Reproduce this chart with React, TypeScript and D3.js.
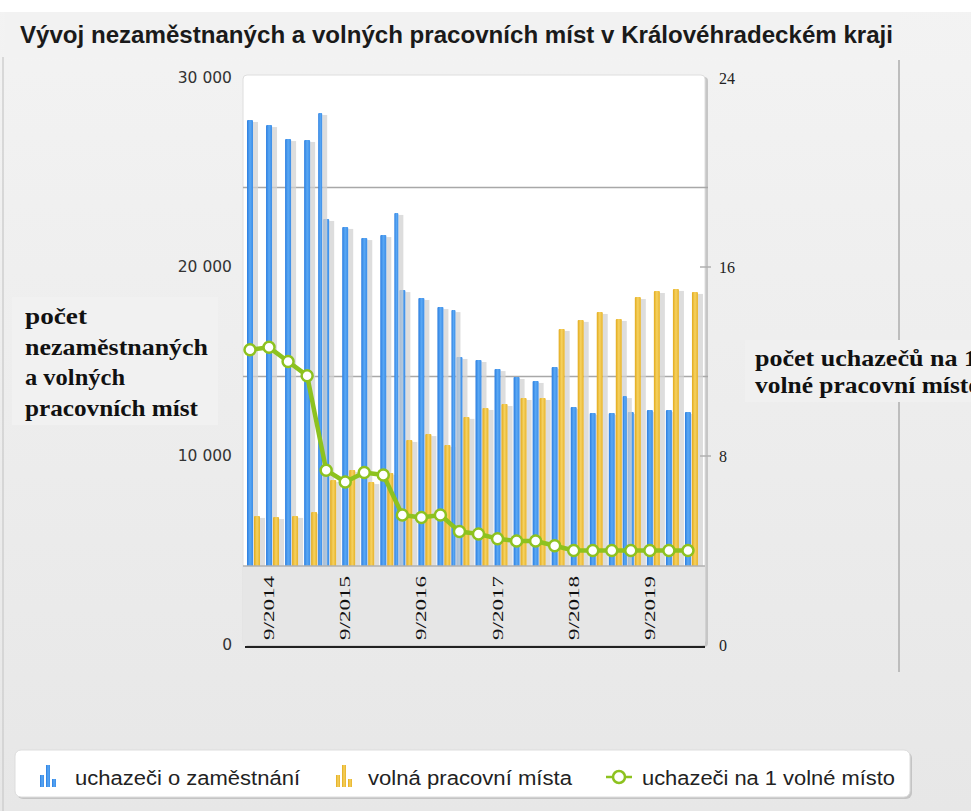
import * as d3 from 'd3';
import { useRef, useEffect } from 'react';

// quarterly categories, only the September ones get a label
const categories = [
  '6/2014', '9/2014', '12/2014', '3/2015', '6/2015', '9/2015', '12/2015', '3/2016',
  '6/2016', '9/2016', '12/2016', '3/2017', '6/2017', '9/2017', '12/2017', '3/2018',
  '6/2018', '9/2018', '12/2018', '3/2019', '6/2019', '9/2019', '12/2019', '3/2020'
];
const jobSeekers = [
  27780, 27510, 26770, 26720, 22540, 22120, 21530, 21690,
  18780, 18360, 17880, 15240, 15080, 14600, 14180, 13970,
  14710, 12590, 12280, 12280, 12330, 12430, 12430, 12330
];
const vacancies = [
  6830, 6770, 6830, 7040, 8730, 9260, 8620, 9100,
  10850, 11160, 10580, 12070, 12540, 12750, 13070, 13070,
  16720, 17200, 17620, 17250, 18410, 18730, 18840, 18680
];
const seekersPerVacancy = [
  12.5, 12.6, 12.0, 11.4, 7.4, 6.9, 7.3, 7.2,
  5.5, 5.4, 5.5, 4.8, 4.7, 4.5, 4.4, 4.4,
  4.2, 4.0, 4.0, 4.0, 4.0, 4.0, 4.0, 4.0
];
// narrow extra blue bars sitting at the year boundaries
const spikeAfter = [3, 7, 10, 19];
const spikeValues = [28150, 22860, 17720, 13170];

const leftTicks = [0, 10000, 20000, 30000];
const rightTicks = [0, 8, 16, 24];
const gridValues = [14200, 24200];

const title = 'Vývoj nezaměstnaných a volných pracovních míst v Královéhradeckém kraji';
const leftTitle = ['počet', 'nezaměstnaných', 'a volných', 'pracovních míst'];
const rightTitle = ['počet uchazečů na 1', 'volné pracovní místo'];
const legendLabels = ['uchazeči o zaměstnání', 'volná pracovní místa', 'uchazeči na 1 volné místo'];

const App = () => {
  const svgRef = useRef<SVGSVGElement>(null);

  useEffect(() => {
    document.body.style.margin = '0';
    const svg = d3.select(svgRef.current);
    svg.selectAll('*').remove();
    const width = 971;
    const height = 811;
    const panel = { left: 243, right: 705, top: 75, bottom: 645 };
    const bandTop = 566;
    const green = '#8dc21f';

    const defs = svg.append('defs');
    const grad = (id, stops, vertical = false) => {
      const g = defs.append('linearGradient').attr('id', id)
        .attr('x1', 0).attr('y1', 0).attr('x2', vertical ? 0 : 1).attr('y2', vertical ? 1 : 0);
      stops.forEach(([o, c]) => g.append('stop').attr('offset', o).attr('stop-color', c));
    };
    grad('bg', [[0, '#f3f3f3'], [1, '#e7e7e7']], true);
    grad('blue', [[0, '#2a7de0'], [0.5, '#5aa8f4'], [1, '#3b8de8']]);
    grad('yellow', [[0, '#e2aa1c'], [0.5, '#f6d260'], [1, '#e6b22a']]);

    svg.attr('width', width).attr('height', height);

    // page background
    svg.append('rect').attr('width', width).attr('height', height).attr('fill', 'url(#bg)');
    svg.append('rect').attr('width', width).attr('height', 12).attr('fill', '#ffffff');
    svg.append('rect').attr('x', 5).attr('y', 12).attr('width', 895).attr('height', 45).attr('fill', '#f2f2f2');
    svg.append('line').attr('x1', 3).attr('x2', 3).attr('y1', 57).attr('y2', height)
      .attr('stroke', '#cfcfcf').attr('stroke-width', 1.5);

    svg.append('text')
      .attr('x', 20).attr('y', 43)
      .attr('textLength', 873).attr('lengthAdjust', 'spacingAndGlyphs')
      .style('font-family', '"Liberation Sans Narrow", "Liberation Sans", Arial, sans-serif')
      .style('font-size', '23px')
      .style('font-weight', 'bold')
      .attr('fill', '#1a1a1a')
      .text(title);

    // right vertical divider
    svg.append('line').attr('x1', 899).attr('x2', 899).attr('y1', 60).attr('y2', 672)
      .attr('stroke', '#bdbdbd').attr('stroke-width', 2);

    // scales
    const x = d3.scaleBand().domain(categories).range([243, 700]);
    const yLeft = d3.scaleLinear().domain([0, 30000]).range([panel.bottom, 78]);
    const yRight = d3.scaleLinear().domain([0, 24]).range([panel.bottom, 78]);
    const bw = 6;

    // white plot panel with shadow
    svg.append('rect').attr('x', panel.left + 3).attr('y', panel.top + 2)
      .attr('width', panel.right - panel.left).attr('height', panel.bottom - panel.top)
      .attr('rx', 4).attr('fill', '#c6c6c6');
    svg.append('rect').attr('x', panel.left).attr('y', panel.top)
      .attr('width', panel.right - panel.left).attr('height', panel.bottom - panel.top)
      .attr('rx', 4).attr('fill', '#ffffff').attr('stroke', '#dedede');

    // gridlines
    svg.append('g').selectAll('line').data(gridValues).enter().append('line')
      .attr('x1', panel.left).attr('x2', panel.right + 3)
      .attr('y1', d => yLeft(d)).attr('y2', d => yLeft(d))
      .attr('stroke', '#a8a8a8').attr('stroke-width', 1.5);

    const bars = svg.append('g');
    const drawBar = (bx, v, w, fill) => {
      bars.append('rect').attr('x', bx + w).attr('y', yLeft(v) + 2).attr('width', 5)
        .attr('height', panel.bottom - yLeft(v)).attr('fill', '#d2d2d2').attr('opacity', 0.75);
      bars.append('rect').attr('x', bx).attr('y', yLeft(v)).attr('width', w)
        .attr('height', panel.bottom - yLeft(v)).attr('rx', 1).attr('fill', fill);
    };
    categories.forEach((c, i) => {
      drawBar(x(c) + 4, jobSeekers[i], bw, 'url(#blue)');
      drawBar(x(c) + 11, vacancies[i], bw, 'url(#yellow)');
    });
    spikeAfter.forEach((a, i) => {
      drawBar(x(categories[a + 1]) - 1, spikeValues[i], 4, 'url(#blue)');
    });

    // x-axis band covering the bar bases
    svg.append('rect').attr('x', panel.left).attr('y', bandTop)
      .attr('width', panel.right - panel.left).attr('height', panel.bottom - bandTop)
      .attr('fill', '#e6e6e6');
    svg.append('line').attr('x1', panel.left).attr('x2', panel.right)
      .attr('y1', bandTop).attr('y2', bandTop).attr('stroke', '#b0b0b0').attr('stroke-width', 1.5);
    svg.append('line').attr('x1', panel.left + 2).attr('x2', panel.right)
      .attr('y1', panel.bottom + 2).attr('y2', panel.bottom + 2).attr('stroke', '#222').attr('stroke-width', 2);

    // x labels
    svg.append('g').selectAll('text')
      .data(categories.filter(c => c.startsWith('9/')))
      .enter().append('text')
      .attr('transform', d => `translate(${x(d) + 12},640) rotate(-90)`)
      .attr('textLength', 64).attr('lengthAdjust', 'spacingAndGlyphs')
      .style('font-family', '"Liberation Serif", serif')
      .style('font-size', '15px')
      .attr('fill', '#111')
      .text(d => d);

    // line series
    const line = d3.line().x((d, i) => x(categories[i]) + 7).y(d => yRight(d));
    svg.append('path').datum(seekersPerVacancy)
      .attr('d', line).attr('fill', 'none').attr('stroke', green)
      .attr('stroke-width', 4.5).attr('stroke-linejoin', 'round');
    svg.append('g').selectAll('circle').data(seekersPerVacancy).enter().append('circle')
      .attr('cx', (d, i) => x(categories[i]) + 7).attr('cy', d => yRight(d))
      .attr('r', 5.5).attr('fill', '#ffffff').attr('stroke', green).attr('stroke-width', 2.5);

    // left axis labels
    svg.append('g').selectAll('text').data(leftTicks).enter().append('text')
      .attr('x', 232).attr('y', d => yLeft(d)).attr('dy', '0.35em')
      .attr('text-anchor', 'end')
      .style('font-family', '"DejaVu Sans", sans-serif')
      .style('font-size', '15.5px')
      .attr('fill', '#333')
      .text(d => d3.format(',')(d).replace(/,/g, ' '));

    // right axis labels + ticks
    svg.append('g').selectAll('text').data(rightTicks).enter().append('text')
      .attr('x', 719).attr('y', d => yRight(d)).attr('dy', '0.35em')
      .style('font-family', '"Liberation Serif", serif')
      .style('font-size', '16px')
      .attr('fill', '#222')
      .text(d => d);
    svg.append('g').selectAll('line').data([8, 16]).enter().append('line')
      .attr('x1', 700).attr('x2', 711).attr('y1', d => yRight(d)).attr('y2', d => yRight(d))
      .attr('stroke', '#b0b0b0').attr('stroke-width', 1.5);

    // axis titles
    const leftW = [62, 183, 100, 173];
    svg.append('rect').attr('x', 12).attr('y', 297).attr('width', 206).attr('height', 128).attr('fill', '#f1f1f1');
    svg.append('g').selectAll('text').data(leftTitle).enter().append('text')
      .attr('x', 25).attr('y', (d, i) => 324 + i * 30.5)
      .attr('textLength', (d, i) => leftW[i]).attr('lengthAdjust', 'spacingAndGlyphs')
      .style('font-family', '"Liberation Serif", serif')
      .style('font-size', '23px')
      .style('font-weight', 'bold')
      .attr('fill', '#111')
      .text(d => d);

    const rightW = [222, 226];
    svg.append('rect').attr('x', 745).attr('y', 340).attr('width', 226).attr('height', 62).attr('fill', '#f0f0f0');
    svg.append('g').selectAll('text').data(rightTitle).enter().append('text')
      .attr('x', 755).attr('y', (d, i) => 366 + i * 27)
      .attr('textLength', (d, i) => rightW[i]).attr('lengthAdjust', 'spacingAndGlyphs')
      .style('font-family', '"Liberation Serif", serif')
      .style('font-size', '23px')
      .style('font-weight', 'bold')
      .attr('fill', '#111')
      .text(d => d);

    // legend
    svg.append('rect').attr('x', 17).attr('y', 752).attr('width', 895).attr('height', 47).attr('rx', 6).attr('fill', '#c4c4c4');
    svg.append('rect').attr('x', 15).attr('y', 750).attr('width', 895).attr('height', 47).attr('rx', 6)
      .attr('fill', '#ffffff').attr('stroke', '#dddddd');
    const icon = (ix, fill) => {
      [12, 22, 8].forEach((h, k) => {
        svg.append('rect').attr('x', ix + k * 6).attr('y', 787 - h).attr('width', 4).attr('height', h).attr('fill', fill);
      });
    };
    icon(40, 'url(#blue)');
    icon(336, 'url(#yellow)');
    svg.append('line').attr('x1', 606).attr('x2', 632).attr('y1', 777).attr('y2', 777)
      .attr('stroke', green).attr('stroke-width', 2.5);
    svg.append('circle').attr('cx', 619).attr('cy', 777).attr('r', 6)
      .attr('fill', '#fff').attr('stroke', green).attr('stroke-width', 2.5);
    const legendX = [75, 368, 642];
    const legendW = [225, 204, 253];
    svg.append('g').selectAll('text').data(legendLabels).enter().append('text')
      .attr('x', (d, i) => legendX[i]).attr('y', 785)
      .attr('textLength', (d, i) => legendW[i]).attr('lengthAdjust', 'spacingAndGlyphs')
      .style('font-family', '"Liberation Sans Narrow", "Liberation Sans", Arial, sans-serif')
      .style('font-size', '20px')
      .attr('fill', '#222')
      .text(d => d);
  }, []);

  return <svg ref={svgRef} width={971} height={811} style={{ display: 'block' }}></svg>;
};

export default App;
